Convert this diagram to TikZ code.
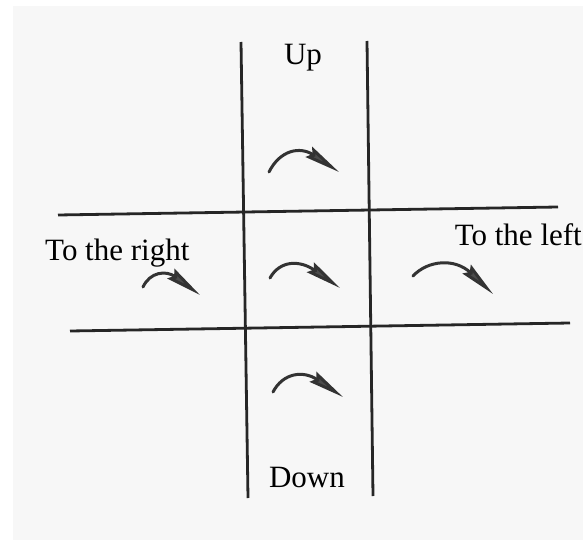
\documentclass[tikz,border=0pt]{standalone}
\usepackage{fontspec}
\setmainfont{Liberation Serif}
\usetikzlibrary{arrows.meta}
\begin{document}
\begin{tikzpicture}[
      x=1pt, y=-1pt,
      font=\fontsize{31}{37}\selectfont,
      linie/.style={line width=2.8pt, draw=black!85},
      bogen/.style={line width=3pt, draw=black!80, line cap=round,
        -{Stealth[length=36pt, width=12pt, inset=4pt, fill=black!70]}},
      schrift/.style={inner sep=0pt}
    ]
      \useasboundingbox (0,0) rectangle (583,540);
      \fill[gray!6] (13,6) rectangle (583,540);
      % Gitter
      \draw[linie] (241,42) -- (248,498);
      \draw[linie] (367,41) -- (373,496);
      \draw[linie] (58,215) -- (558,207);
      \draw[linie] (70,331) -- (570,323);
      % Beschriftung
      \node[schrift, anchor=base] (oben) at (303,65) {Up};
      \node[schrift, anchor=base west] (rechts) at (45,260) {To the right};
      \node[schrift, anchor=base east] (links) at (582,245) {To the left};
      \node[schrift, anchor=base] (unten) at (307,487) {Down};
      % Boegen
      \draw[bogen] (269,172) .. controls (280,150) and (300,146) .. (339,172);
      \draw[bogen] (270,278) .. controls (280,260) and (300,260) .. (340,288);
      \draw[bogen] (143,287) .. controls (150,272) and (166,270) .. (200,295);
      \draw[bogen] (413,276) .. controls (428,260) and (455,258) .. (493,294);
      \draw[bogen] (273,392) .. controls (283,373) and (303,370) .. (343,397);
    \end{tikzpicture}
\end{document}
